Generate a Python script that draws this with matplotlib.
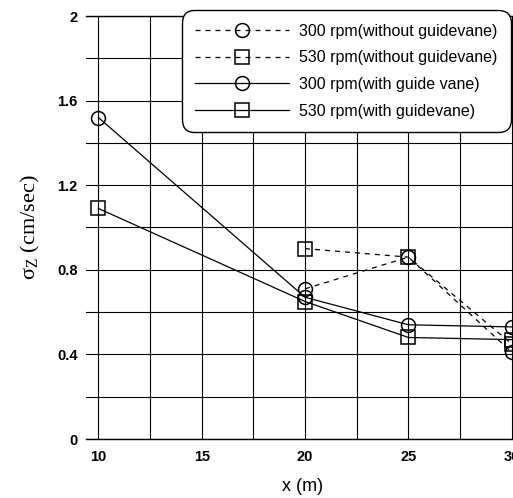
import matplotlib
matplotlib.use("Agg")
import matplotlib.pyplot as plt

# Downstream distance (m)
x_with = [10, 20, 25, 30]
x_without = [20, 25, 30]

# Vertical dispersion sigma_z (cm/sec)
rpm300_without = [0.71, 0.86, 0.41]
rpm530_without = [0.90, 0.86, 0.45]
rpm300_with = [1.52, 0.67, 0.54, 0.53]
rpm530_with = [1.09, 0.65, 0.48, 0.47]

labels = [
    "300 rpm(without guidevane)",
    "530 rpm(without guidevane)",
    "300 rpm(with guide vane)",
    "530 rpm(with guidevane)",
]

x_grid = [10, 12.5, 15, 17.5, 20, 22.5, 25, 27.5, 30]
x_labels = ["10", "", "15", "", "20", "", "25", "", "30"]
y_grid = [0, 0.2, 0.4, 0.6, 0.8, 1.0, 1.2, 1.4, 1.6, 1.8, 2.0]
y_labels = ["0", "", "0.4", "", "0.8", "", "1.2", "", "1.6", "", "2"]

W, H = 513, 498
fig = plt.figure(figsize=(W / 100, H / 100), dpi=100)
ax = fig.add_axes([86 / W, 59 / H, 434 / W, 423 / H])

mk = dict(markersize=10, markerfacecolor="none", markeredgecolor="black",
          markeredgewidth=1.1, color="black", linewidth=0.9, clip_on=False)
h1, = ax.plot(x_without, rpm300_without, linestyle=(0, (4, 4)), marker="o", **mk)
h2, = ax.plot(x_without, rpm530_without, linestyle=(0, (4, 4)), marker="s", **mk)
h3, = ax.plot(x_with, rpm300_with, linestyle="-", marker="o", **mk)
h4, = ax.plot(x_with, rpm530_with, linestyle="-", marker="s", **mk)

ax.set_xlim(9.4, 30.4)
ax.set_ylim(0, 2)

ax.set_xticks(x_grid)
ax.set_yticks(y_grid)
ax.grid(True, color="black", linewidth=0.8)
ax.tick_params(length=0)
ax.set_xticklabels(x_labels, fontsize=10.5, fontweight="bold", family="Liberation Sans")
ax.set_yticklabels(y_labels, fontsize=10.5, fontweight="bold", family="Liberation Sans")
ax.tick_params(axis="y", pad=6)
ax.tick_params(axis="x", pad=8)

for s in ["left", "right"]:
    ax.spines[s].set_visible(False)
for s in ["top", "bottom"]:
    ax.spines[s].set_linewidth(1.0)

ax.set_xlabel("x (m)", fontsize=13, family="Liberation Sans", labelpad=10)
ax.set_ylabel(r"σ$_\mathregular{Z}$ (cm/sec)", fontsize=16, family="Liberation Serif",
              labelpad=11)

leg = fig.legend([h1, h2, h3, h4], labels, loc="upper right",
                 bbox_to_anchor=(511 / W, 1 - 10 / H),
                 prop={"family": "Liberation Sans", "size": 11.5},
                 handlelength=5.9, handletextpad=0.6, labelspacing=0.73,
                 borderpad=0.85, borderaxespad=0, fancybox=True, framealpha=1,
                 edgecolor="black")
leg.get_frame().set_linewidth(1.0)
leg.get_frame().set_boxstyle("round", pad=0.0, rounding_size=0.8)

fig.savefig("out.png", dpi=100)
